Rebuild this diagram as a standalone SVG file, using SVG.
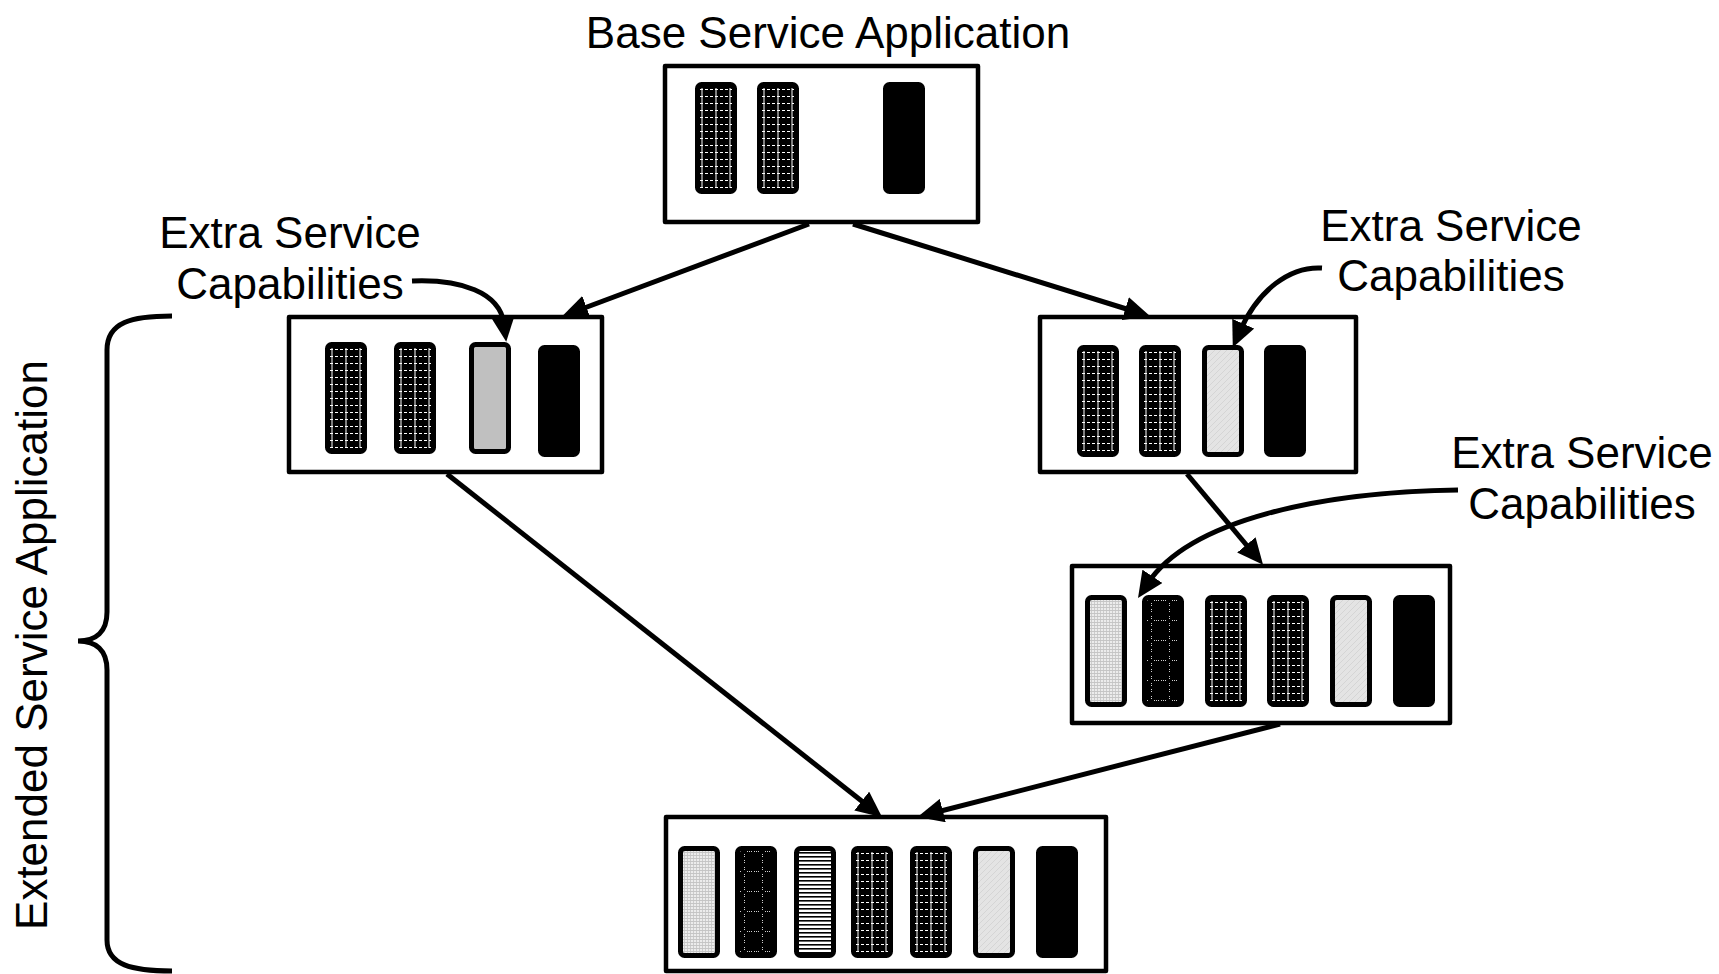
<svg xmlns="http://www.w3.org/2000/svg" xmlns:xlink="http://www.w3.org/1999/xlink" width="1719" height="974" viewBox="0 0 1719 974">
  <style>
    .lbl { font-family: "Liberation Sans", Arial, sans-serif; font-size: 44px; fill: #000; }
    .box { fill: #fff; stroke: #000; stroke-width: 4.5; stroke-linejoin: round; }
    .conn { fill: none; stroke: #000; stroke-width: 5; stroke-linecap: butt; }
  </style>
  <defs>
    <marker id="head" viewBox="0 0 26 24" refX="8" refY="12" markerWidth="26" markerHeight="24" markerUnits="userSpaceOnUse" orient="auto">
      <path d="M0,0 L26,12 L0,24 z" fill="#000"/>
    </marker>

    <!-- dark cells with dotted white rungs -->
    <pattern id="ladderPat" width="5" height="7" patternUnits="userSpaceOnUse">
      <rect width="5" height="7" fill="#000"/>
      <rect x="0" y="0" width="3" height="1" fill="#fff"/>
    </pattern>
    <!-- dark cells with dotted cross motif -->
    <pattern id="crossPat" width="18" height="20" patternUnits="userSpaceOnUse">
      <rect width="18" height="20" fill="#000"/>
      <g fill="#cfcfcf">
        <rect x="1" y="5" width="1" height="1"/>
        <rect x="3" y="5" width="1" height="1"/>
        <rect x="5" y="5" width="1" height="1"/>
        <rect x="12" y="5" width="1" height="1"/>
        <rect x="14" y="5" width="1" height="1"/>
        <rect x="16" y="5" width="1" height="1"/>
        <rect x="9" y="1" width="1" height="1"/>
        <rect x="9" y="3" width="1" height="1"/>
        <rect x="9" y="8" width="1" height="1"/>
        <rect x="9" y="10" width="1" height="1"/>
        <rect x="9" y="14" width="1" height="1"/>
        <rect x="9" y="16" width="1" height="1"/>
      </g>
    </pattern>
    <!-- light grid -->
    <pattern id="gridPat" width="3" height="3" patternUnits="userSpaceOnUse">
      <rect width="3" height="3" fill="#ececec"/>
      <rect width="3" height="0.8" fill="#bdbdbd"/>
      <rect width="0.8" height="3" fill="#c4c4c4"/>
    </pattern>
    <!-- light diagonal speckle -->
    <pattern id="diagPat" width="6" height="6" patternUnits="userSpaceOnUse">
      <rect width="6" height="6" fill="#e4e4e4"/>
      <path d="M0,6 L6,0" stroke="#d2d2d2" stroke-width="0.8"/>
    </pattern>
    <!-- horizontal stripes -->
    <pattern id="stripePat" width="4" height="4" patternUnits="userSpaceOnUse">
      <rect width="4" height="4" fill="#fff"/>
      <rect y="2" width="4" height="1.6" fill="#000"/>
    </pattern>

    <!-- capability blocks, 42 x 112 -->
    <symbol id="bLadder" viewBox="0 0 42 112">
      <rect x="2.5" y="2.5" width="37" height="107" rx="4" fill="url(#ladderPat)" stroke="#000" stroke-width="5"/>
      <path d="M7,6 V106 M21,6 V106 M35,6 V106" stroke="#fff" stroke-width="1"/>
    </symbol>
    <symbol id="bBlack" viewBox="0 0 42 112">
      <rect x="2.5" y="2.5" width="37" height="107" rx="4" fill="#000" stroke="#000" stroke-width="5"/>
    </symbol>
    <symbol id="bGray" viewBox="0 0 42 112">
      <rect x="2.5" y="2.5" width="37" height="107" rx="4" fill="#c0c0c0" stroke="#000" stroke-width="5"/>
    </symbol>
    <symbol id="bDiag" viewBox="0 0 42 112">
      <rect x="2.5" y="2.5" width="37" height="107" rx="4" fill="url(#diagPat)" stroke="#000" stroke-width="5"/>
    </symbol>
    <symbol id="bGrid" viewBox="0 0 42 112">
      <rect x="2.5" y="2.5" width="37" height="107" rx="4" fill="url(#gridPat)" stroke="#000" stroke-width="5"/>
    </symbol>
    <symbol id="bCross" viewBox="0 0 42 112">
      <rect x="2.5" y="2.5" width="37" height="107" rx="4" fill="url(#crossPat)" stroke="#000" stroke-width="5"/>
    </symbol>
    <symbol id="bStripe" viewBox="0 0 42 112">
      <rect x="2.5" y="2.5" width="37" height="107" rx="4" fill="url(#stripePat)" stroke="#000" stroke-width="5"/>
    </symbol>
  </defs>

  <rect width="1719" height="974" fill="#fff"/>

  <!-- labels -->
  <text class="lbl" x="828" y="48" text-anchor="middle">Base Service Application</text>
  <g id="label-left">
    <text class="lbl" x="290" y="248" text-anchor="middle">Extra Service</text>
    <text class="lbl" x="290" y="299" text-anchor="middle">Capabilities</text>
  </g>
  <g id="label-right">
    <text class="lbl" x="1451" y="241" text-anchor="middle">Extra Service</text>
    <text class="lbl" x="1451" y="291" text-anchor="middle">Capabilities</text>
  </g>
  <g id="label-right-lower">
    <text class="lbl" x="1582" y="468" text-anchor="middle">Extra Service</text>
    <text class="lbl" x="1582" y="519" text-anchor="middle">Capabilities</text>
  </g>

  <!-- brace grouping the extended applications -->
  <g id="extended-brace">
    <path class="conn" d="M172,316 C132,316 107,322 107,350 L107,612 C107,632 96,641 78,641 C96,641 107,650 107,670 L107,940 C107,965 132,971 172,971"/>
    <text class="lbl" transform="translate(47,645) rotate(-90)" text-anchor="middle">Extended Service Application</text>
  </g>

  <!-- application boxes -->
  <g id="base-app">
    <rect class="box" x="665" y="66" width="313" height="156"/>
    <use href="#bLadder" x="695" y="82" width="42" height="112"/>
    <use href="#bLadder" x="757" y="82" width="42" height="112"/>
    <use href="#bBlack" x="883" y="82" width="42" height="112"/>
  </g>

  <g id="ext-app-left">
    <rect class="box" x="289" y="317" width="313" height="155"/>
    <use href="#bLadder" x="325" y="342" width="42" height="112"/>
    <use href="#bLadder" x="394" y="342" width="42" height="112"/>
    <use href="#bGray" x="469" y="342" width="42" height="112"/>
    <use href="#bBlack" x="538" y="345" width="42" height="112"/>
  </g>

  <g id="ext-app-right">
    <rect class="box" x="1040" y="317" width="316" height="155"/>
    <use href="#bLadder" x="1077" y="345" width="42" height="112"/>
    <use href="#bLadder" x="1139" y="345" width="42" height="112"/>
    <use href="#bDiag" x="1202" y="345" width="42" height="112"/>
    <use href="#bBlack" x="1264" y="345" width="42" height="112"/>
  </g>

  <g id="ext-app-right-lower">
    <rect class="box" x="1072" y="566" width="378" height="157"/>
    <use href="#bGrid" x="1085" y="595" width="42" height="112"/>
    <use href="#bCross" x="1142" y="595" width="42" height="112"/>
    <use href="#bLadder" x="1205" y="595" width="42" height="112"/>
    <use href="#bLadder" x="1267" y="595" width="42" height="112"/>
    <use href="#bDiag" x="1330" y="595" width="42" height="112"/>
    <use href="#bBlack" x="1393" y="595" width="42" height="112"/>
  </g>

  <g id="combined-app">
    <rect class="box" x="666" y="817" width="440" height="154"/>
    <use href="#bGrid" x="678" y="846" width="42" height="112"/>
    <use href="#bCross" x="735" y="846" width="42" height="112"/>
    <use href="#bStripe" x="794" y="846" width="42" height="112"/>
    <use href="#bLadder" x="851" y="846" width="42" height="112"/>
    <use href="#bLadder" x="910" y="846" width="42" height="112"/>
    <use href="#bDiag" x="973" y="846" width="42" height="112"/>
    <use href="#bBlack" x="1036" y="846" width="42" height="112"/>
  </g>

  <!-- connectors -->
  <g id="connectors">
    <path class="conn" marker-end="url(#head)" d="M809,224 L579,310"/>
    <path class="conn" marker-end="url(#head)" d="M853,224 L1133,311"/>
    <path class="conn" marker-end="url(#head)" d="M447,474 L868,806"/>
    <path class="conn" marker-end="url(#head)" d="M1187,474 L1251.5,551"/>
    <path class="conn" marker-end="url(#head)" d="M1280,724 L935,812.5"/>
    <!-- callouts -->
    <path class="conn" marker-end="url(#head)" d="M412,281 C460,279 500,292 504,324"/>
    <path class="conn" marker-end="url(#head)" d="M1322,268 C1290,266 1258,290 1240,331"/>
    <path class="conn" marker-end="url(#head)" d="M1458,490 C1320,492 1190,520 1148,583"/>
  </g>
</svg>
